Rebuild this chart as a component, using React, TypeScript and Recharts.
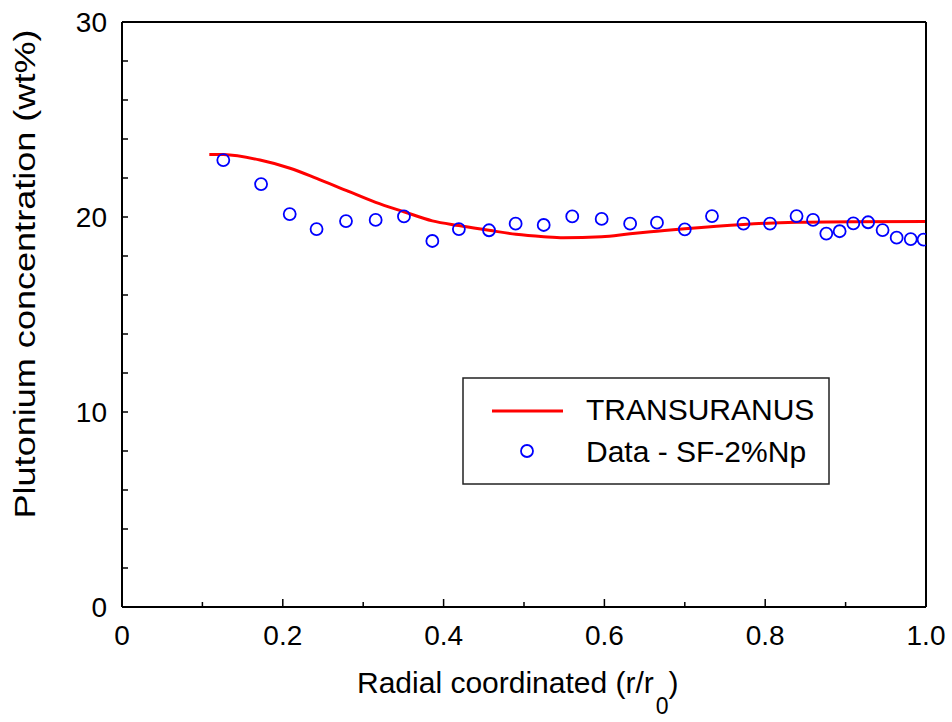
import React from 'react';
import { ComposedChart, Line, Scatter, XAxis, YAxis, Legend } from 'recharts';

const lineX = [0.1086, 0.126, 0.1716, 0.209, 0.242, 0.2795, 0.3155, 0.3507, 0.386, 0.419, 0.4565, 0.49, 0.5245, 0.549, 0.5966, 0.632, 0.6654, 0.70, 0.773, 0.839, 0.91, 1.0];
const lineY = [23.21, 23.2, 22.92, 22.5, 21.98, 21.35, 20.75, 20.27, 19.8, 19.56, 19.32, 19.11, 18.99, 18.94, 18.99, 19.14, 19.27, 19.4, 19.62, 19.73, 19.76, 19.77];

const dataX = [0.126, 0.173, 0.2086, 0.242, 0.2786, 0.3155, 0.3507, 0.386, 0.419, 0.4565, 0.4896, 0.5245, 0.56, 0.5966, 0.632, 0.6654, 0.7, 0.7338, 0.773, 0.806, 0.839, 0.8595, 0.876, 0.8926, 0.9096, 0.928, 0.946, 0.9635, 0.981, 0.997];
const dataY = [22.92, 21.69, 20.15, 19.38, 19.79, 19.85, 20.03, 18.77, 19.38, 19.32, 19.66, 19.59, 20.03, 19.9, 19.66, 19.71, 19.37, 20.05, 19.66, 19.66, 20.05, 19.85, 19.15, 19.27, 19.67, 19.73, 19.33, 18.94, 18.87, 18.84];

const xTicks = [0, 0.1, 0.2, 0.3, 0.4, 0.5, 0.6, 0.7, 0.8, 0.9, 1.0];
const xTickLabels = ['0', '', '0.2', '', '0.4', '', '0.6', '', '0.8', '', '1.0'];
const yTicks = [0, 2, 4, 6, 8, 10, 12, 14, 16, 18, 20, 22, 24, 26, 28, 30];

const seriesNames = ['TRANSURANUS', 'Data - SF-2%Np'];
const xTitle = 'Radial coordinated (r/r';
const xTitleSub = '0';
const yTitle = 'Plutonium concentration (wt%)';

const lineData = lineX.map((x, i) => ({ x, y: lineY[i] }));
const pointData = dataX.map((x, i) => ({ x, y: dataY[i] }));

const FONT = "Arial, 'Liberation Sans', Helvetica, sans-serif";

const XTick = (props: any) => {
  const { x, y, index } = props;
  const label = xTickLabels[index];
  const major = label !== '';
  return (
    <g>
      <line x1={x} x2={x} y1={y} y2={y - (major ? 8 : 5)} stroke="#000" strokeWidth={1.5} />
      {major && (
        <text x={x} y={y + 38} textAnchor="middle" fontSize={28} fontFamily={FONT} fill="#000">
          {label}
        </text>
      )}
    </g>
  );
};

const YTickLeft = (props: any) => {
  const { x, y, payload } = props;
  const v = payload.value;
  return (
    <g>
      <line x1={x} x2={x + 6} y1={y} y2={y} stroke="#000" strokeWidth={1.5} />
      {v % 10 === 0 && (
        <text x={x - 15} y={y + 10} textAnchor="end" fontSize={28} fontFamily={FONT} fill="#000">
          {String(v)}
        </text>
      )}
    </g>
  );
};

const YTickRight = (props: any) => {
  const { x, y } = props;
  return <line x1={x} x2={x - 6} y1={y} y2={y} stroke="#000" strokeWidth={1.5} />;
};

const XTitle = () => (
  <text x={357} y={693} fontSize={30} fontFamily={FONT} fill="#000">
    {xTitle}
    <tspan dx={2} dy={21} fontSize={23}>{xTitleSub}</tspan>
    <tspan dy={-21}>)</tspan>
  </text>
);

const YTitle = () => (
  <text
    x={35}
    y={274}
    transform="rotate(-90,35,274)"
    textAnchor="middle"
    fontSize={30}
    fontFamily={FONT}
    fill="#000"
    textLength={489}
    lengthAdjust="spacingAndGlyphs"
  >
    {yTitle}
  </text>
);

const renderLegend = () => (
  <svg width={368} height={108} style={{ display: 'block' }}>
    <rect x={1} y={1} width={366} height={106} fill="#fff" stroke="#222" strokeWidth={1.5} />
    <line x1={30} x2={101} y1={34} y2={34} stroke="#ff0000" strokeWidth={3} />
    <circle cx={65} cy={74} r={6} fill="none" stroke="#0000ff" strokeWidth={1.8} />
    <text x={124} y={42.5} fontSize={30} fontFamily={FONT} fill="#000">{seriesNames[0]}</text>
    <text x={124} y={85} fontSize={30} fontFamily={FONT} fill="#000">{seriesNames[1]}</text>
  </svg>
);

const Circle = (props: any) => {
  const { cx, cy } = props;
  if (cx == null || cy == null) return null;
  return <circle cx={cx} cy={cy} r={6} fill="none" stroke="#0000ff" strokeWidth={1.8} />;
};

export default function App() {
  return (
    <div style={{ position: 'absolute', left: 0, top: 0, width: 952, height: 722, background: '#fff' }}>
      <ComposedChart width={952} height={722} margin={{ top: 21, right: 25, bottom: 114, left: 121 }}>
        <XAxis
          xAxisId="b"
          type="number"
          dataKey="x"
          domain={[0, 1]}
          ticks={xTicks}
          interval={0}
          height={1}
          tickSize={0}
          tickMargin={0}
          tickLine={false}
          axisLine={{ stroke: '#000', strokeWidth: 2 }}
          tick={<XTick />}
          allowDataOverflow
          label={<XTitle />}
        />
        <XAxis
          xAxisId="t"
          orientation="top"
          type="number"
          domain={[0, 1]}
          height={1}
          tick={false}
          tickLine={false}
          axisLine={{ stroke: '#000', strokeWidth: 2 }}
        />
        <YAxis
          yAxisId="l"
          type="number"
          dataKey="y"
          domain={[0, 30]}
          ticks={yTicks}
          interval={0}
          width={1}
          tickSize={0}
          tickMargin={0}
          tickLine={false}
          axisLine={{ stroke: '#000', strokeWidth: 2 }}
          tick={<YTickLeft />}
          allowDataOverflow
          label={<YTitle />}
        />
        <YAxis
          yAxisId="r"
          orientation="right"
          type="number"
          domain={[0, 30]}
          ticks={yTicks}
          interval={0}
          width={1}
          tickSize={0}
          tickMargin={0}
          tickLine={false}
          axisLine={{ stroke: '#000', strokeWidth: 2 }}
          tick={<YTickRight />}
        />
        <Line
          xAxisId="b"
          yAxisId="l"
          data={lineData}
          dataKey="y"
          type="monotone"
          stroke="#ff0000"
          strokeWidth={3}
          dot={false}
          activeDot={false}
          isAnimationActive={false}
        />
        <Scatter
          xAxisId="b"
          yAxisId="l"
          data={pointData}
          dataKey="y"
          shape={<Circle />}
          isAnimationActive={false}
        />
        <Legend
          layout="vertical"
          align="center"
          verticalAlign="middle"
          content={renderLegend}
          wrapperStyle={{ position: 'absolute', left: 462, top: 377, width: 368, height: 108 }}
        />
      </ComposedChart>
    </div>
  );
}
